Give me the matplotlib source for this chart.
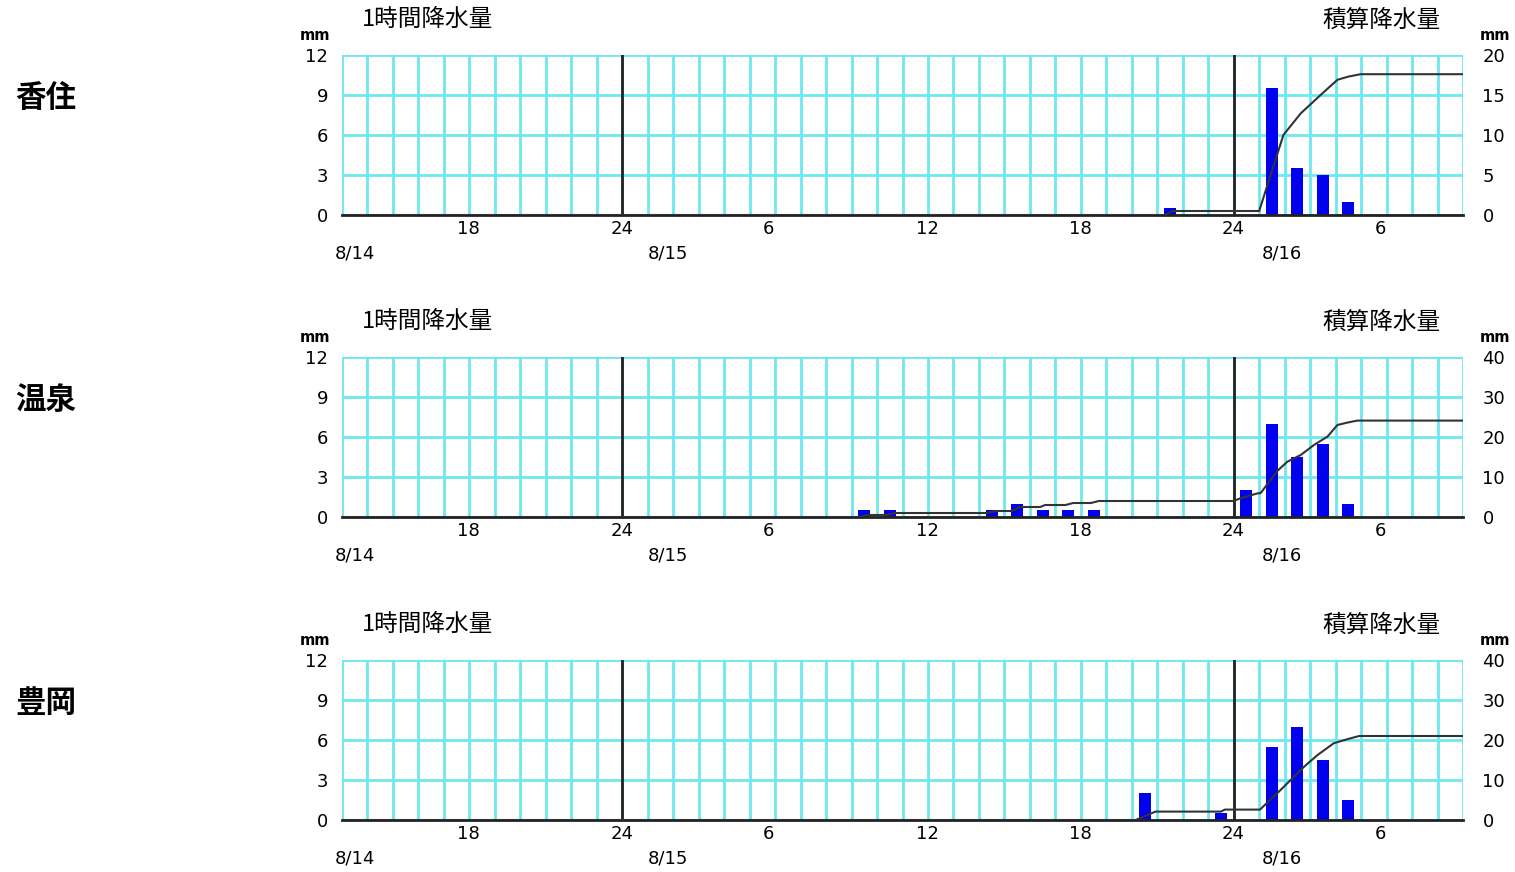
import numpy as np
import matplotlib
matplotlib.use('Agg')
import matplotlib.pyplot as plt
import matplotlib.transforms as mtransforms

plt.rcParams['font.family'] = ['DejaVu Sans', 'Noto Sans CJK JP']
jp = ['Noto Sans CJK JP', 'DejaVu Sans']

# hours counted from 8/14 13:00 (0) to 8/16 09:00 (44)
hour_ticks = [5, 11, 17, 23, 29, 35, 41]
hour_labels = ['18', '24', '6', '12', '18', '24', '6']
day_lines = [11, 35]
date_pos = [0.5, 12.8, 36.9]
date_labels = ['8/14', '8/15', '8/16']

stations = ['香住', '温泉', '豊岡']
right_max = [20, 40, 40]

# hourly rainfall: start hour of each interval and amount (mm)
bar_start = [
    [32, 36, 37, 38, 39],
    [20, 21, 25, 26, 27, 28, 29, 35, 36, 37, 38, 39],
    [31, 34, 36, 37, 38, 39],
]
bar_mm = [
    [0.5, 9.5, 3.5, 3.0, 1.0],
    [0.5, 0.5, 0.5, 1.0, 0.5, 0.5, 0.5, 2.0, 7.0, 4.5, 5.5, 1.0],
    [2.0, 0.5, 5.5, 7.0, 4.5, 1.5],
]

# accumulated rainfall line
acc_x = [
    [0, 32.3, 32.6, 36.0, 36.95, 37.63, 38.41, 39.07, 39.5, 39.98, 44],
    [0, 20.3, 20.6, 21.4, 21.7, 25.3, 25.7, 26.3, 26.6, 27.4, 27.6, 28.4, 28.7,
     29.4, 29.7, 35.0, 35.27, 35.93, 36.06, 36.71, 37.1, 37.63, 38.15, 38.68,
     39.07, 39.46, 39.85, 44],
    [0, 31.15, 31.93, 34.5, 34.65, 36.03, 36.71, 37.3, 37.76, 38.28, 38.93,
     39.46, 39.92, 44],
]
acc_mm = [
    [0, 0, 0.5, 0.5, 10.0, 12.7, 15.0, 16.9, 17.3, 17.6, 17.6],
    [0, 0, 0.5, 0.5, 1.0, 1.0, 1.5, 1.5, 2.5, 2.5, 3.0, 3.0, 3.5,
     3.5, 4.0, 4.0, 4.7, 5.9, 6.0, 11.5, 13.8, 15.5, 18.0, 20.1,
     23.0, 23.6, 24.1, 24.1],
    [0, 0, 2.1, 2.1, 2.6, 2.6, 6.7, 10.4, 13.3, 16.2, 19.2,
     20.2, 21.0, 21.0],
]

W, H = 1515, 872
fig = plt.figure(figsize=(W / 100, H / 100), dpi=100)

grid_c = '#6DE8EE'
bar_c = '#0000EE'
num_fs = 13

panel_top = [55, 357, 660]
for i in range(3):
    top = panel_top[i]
    ax = fig.add_axes([342 / W, 1 - (top + 160) / H, 1121 / W, 160 / H])
    ax.set_xlim(0, 44)
    ax.set_ylim(0, 12)
    ax.set_xticks(np.arange(0, 45, 1))
    ax.set_xticklabels([])
    ax.set_yticks([0, 3, 6, 9, 12])
    ax.set_yticklabels(['0', '3', '6', '9', '12'], fontsize=num_fs)
    ax.tick_params(length=0)
    ax.tick_params(axis='y', pad=10)
    ax.grid(True, color=grid_c, lw=2, zorder=0)
    ax.set_axisbelow(True)
    for s in ['top', 'left', 'right']:
        ax.spines[s].set_visible(False)
    ax.spines['bottom'].set_color('#222222')
    ax.spines['bottom'].set_linewidth(2)
    ax.spines['bottom'].set_zorder(5)
    for d in day_lines:
        ax.axvline(d, color='#222222', lw=2, zorder=1)

    ax.bar(np.array(bar_start[i]) + 0.5, bar_mm[i], width=0.47, color=bar_c, zorder=2)

    ax2 = ax.twinx()
    ax2.set_ylim(0, right_max[i])
    ax2.set_yticks(np.linspace(0, right_max[i], 5))
    ax2.set_yticklabels([str(int(v)) for v in np.linspace(0, right_max[i], 5)], fontsize=num_fs)
    ax2.tick_params(length=0, pad=14)
    for s in ['top', 'left', 'right', 'bottom']:
        ax2.spines[s].set_visible(False)
    ax2.plot(acc_x[i], acc_mm[i], color='#333333', lw=1.5)

    # hour labels: left edge sits 12 px left of the tick
    trans = mtransforms.blended_transform_factory(ax.transData, ax.transAxes)
    shift = mtransforms.ScaledTranslation(-12 / 100, 0, fig.dpi_scale_trans)
    for h, lab in zip(hour_ticks, hour_labels):
        ax.text(h, -0.09, lab, transform=trans + shift, ha='left', va='center',
                fontsize=num_fs)
    for p, lab in zip(date_pos, date_labels):
        ax.text(p, -0.2375, lab, transform=trans, ha='center', va='center', fontsize=num_fs)

    ax.text(0.018, 1.219, '1時間降水量', transform=ax.transAxes, ha='left', va='center',
            fontsize=17, family=jp)
    ax.text(0.980, 1.219, '積算降水量', transform=ax.transAxes, ha='right', va='center',
            fontsize=17, family=jp)
    ax.text(-0.024, 1.119, 'mm', transform=ax.transAxes, ha='center', va='center',
            fontsize=10.5, fontweight='bold')
    ax.text(1.0285, 1.119, 'mm', transform=ax.transAxes, ha='center', va='center',
            fontsize=10.5, fontweight='bold')

    fig.text(15 / W, 1 - (top + 43) / H, stations[i], ha='left', va='center',
             fontsize=22, fontweight='bold', family=jp)

fig.savefig('out.png', dpi=100, facecolor='white')
